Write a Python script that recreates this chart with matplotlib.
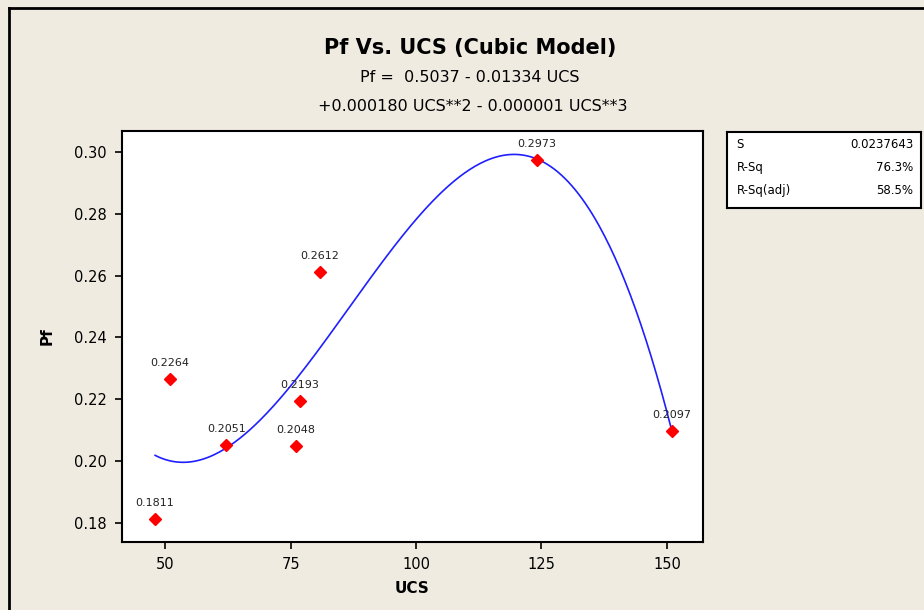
import numpy as np
import matplotlib.pyplot as plt

# Observed UCS values and Pf response
ucs = [48.0, 51.0, 62.2, 76.1, 76.9, 80.9, 124.1, 151.0]
pf = [0.1811, 0.2264, 0.2051, 0.2048, 0.2193, 0.2612, 0.2973, 0.2097]

x_ticks = [50, 75, 100, 125, 150]
y_ticks = [0.18, 0.20, 0.22, 0.24, 0.26, 0.28, 0.30]

stat_names = ['S', 'R-Sq', 'R-Sq(adj)']
stat_values = ['0.0237643', '76.3%', '58.5%']

bg = '#efebe1'
W, H = 924, 610

fig = plt.figure(figsize=(W / 100, H / 100), dpi=100, facecolor=bg)
plt.rcParams['font.family'] = ['DejaVu Sans']

# outer frame (only top and left edges show inside the canvas)
fig.add_artist(plt.Line2D([9 / W, 9 / W], [0, 1 - 8 / H], color='black', lw=2))
fig.add_artist(plt.Line2D([9 / W, 1], [1 - 8 / H, 1 - 8 / H], color='black', lw=2))

left, right, top, bottom = 122, 703, 131, 542
ax = fig.add_axes([left / W, 1 - bottom / H, (right - left) / W, (bottom - top) / H])
ax.set_facecolor('white')

# cubic regression fit
coef = np.polyfit(ucs, pf, 3)
xs = np.linspace(min(ucs), max(ucs), 300)
ax.plot(xs, np.polyval(coef, xs), color='#1f1fff', lw=1.2, zorder=2)

ax.plot(ucs, pf, linestyle='none', marker='D', ms=6.5, color='#ff0000', zorder=3)
for x, y in zip(ucs, pf):
    ax.annotate(f'{y:.4f}', (x, y), xytext=(0, 8), textcoords='offset points',
                ha='center', va='bottom', fontsize=8, color='#222222', zorder=4)

ax.set_xlim(41.4, 157.2)
ax.set_ylim(0.1738, 0.3068)
ax.set_xticks(x_ticks)
ax.set_yticks(y_ticks)
ax.set_yticklabels([f'{v:.2f}' for v in y_ticks])
ax.tick_params(labelsize=10.5, length=5, width=1.2, colors='black', pad=6)
for s in ax.spines.values():
    s.set_linewidth(1.5)

ax.set_xlabel('UCS', fontsize=11, fontweight='bold', labelpad=6)
ax.set_ylabel('Pf', fontsize=11, fontweight='bold', labelpad=14)

fig.text(470 / W, 1 - 48 / H, 'Pf Vs. UCS (Cubic Model)', ha='center', va='center',
         fontsize=15, fontweight='bold')
fig.text(470 / W, 1 - 77 / H, 'Pf =  0.5037 - 0.01334 UCS', ha='center', va='center',
         fontsize=11.5)
fig.text(473 / W, 1 - 106 / H, '+0.000180 UCS**2 - 0.000001 UCS**3', ha='center',
         va='center', fontsize=11.5)

# summary statistics box
bx0, bx1, by0, by1 = 727, 921, 132, 208
box = fig.add_axes([bx0 / W, 1 - by1 / H, (bx1 - bx0) / W, (by1 - by0) / H])
box.set_xticks([])
box.set_yticks([])
box.set_facecolor('white')
for s in box.spines.values():
    s.set_linewidth(1.5)
for i, (name, val) in enumerate(zip(stat_names, stat_values)):
    yy = 0.83 - i * 0.3
    box.text(0.05, yy, name, fontsize=8.5, va='center', ha='left', transform=box.transAxes)
    box.text(0.96, yy, val, fontsize=8.5, va='center', ha='right', transform=box.transAxes)

fig.savefig('out.png', dpi=100, facecolor=bg)
